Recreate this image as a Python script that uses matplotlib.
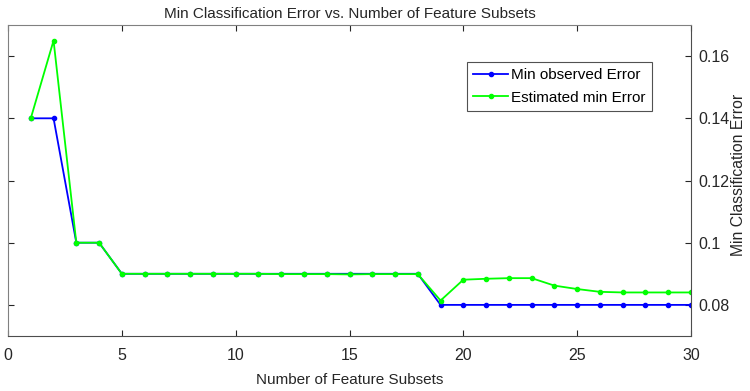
import numpy as np
import matplotlib
matplotlib.use("Agg")
import matplotlib.pyplot as plt

plt.rcParams["font.family"] = ["Liberation Sans", "DejaVu Sans"]

n_subsets = np.arange(1, 31)
min_observed = [0.14, 0.14, 0.10, 0.10, 0.09, 0.09, 0.09, 0.09, 0.09, 0.09,
                0.09, 0.09, 0.09, 0.09, 0.09, 0.09, 0.09, 0.09, 0.08, 0.08,
                0.08, 0.08, 0.08, 0.08, 0.08, 0.08, 0.08, 0.08, 0.08, 0.08]
est_min = [0.14, 0.165, 0.10, 0.10, 0.09, 0.09, 0.09, 0.09, 0.09, 0.09,
           0.09, 0.0899, 0.0899, 0.0899, 0.0898, 0.0899, 0.0899, 0.0899, 0.0814, 0.0881,
           0.0884, 0.0886, 0.0886, 0.0862, 0.0851, 0.0842, 0.0840, 0.0840, 0.0840, 0.0840]

fig = plt.figure(figsize=(7.5, 3.91), dpi=100)
ax = fig.add_axes([0.0107, 0.1407, 0.9106, 0.7953])

ax.plot(n_subsets, min_observed, "-", color="#0000ff", lw=1.3, marker="o", ms=3,
        label="Min observed Error")
ax.plot(n_subsets, est_min, "-", color="#00ff00", lw=1.3, marker="o", ms=3,
        label="Estimated min Error")

ax.set_xlim(0, 30)
ax.set_ylim(0.07, 0.17)
ax.set_xticks([0, 5, 10, 15, 20, 25, 30])
ax.set_yticks([0.08, 0.1, 0.12, 0.14, 0.16])
ax.set_yticklabels(["0.08", "0.1", "0.12", "0.14", "0.16"])
ax.yaxis.tick_right()
ax.yaxis.set_label_position("right")

gray = "#4d4d4d"
for side in ["top", "left"]:
    ax.spines[side].set_color("#808080")
for side in ["bottom", "right"]:
    ax.spines[side].set_color(gray)
ax.tick_params(axis="both", colors="#262626", labelsize=11.5, length=4, direction="in",
               top=True, left=True, width=0.8)
ax.tick_params(axis="x", pad=9)
ax.tick_params(axis="y", pad=5)

ax.set_title("Min Classification Error vs. Number of Feature Subsets", fontsize=11,
             color="#262626", pad=5)
ax.set_xlabel("Number of Feature Subsets", fontsize=11, color="#262626", labelpad=7)
ax.set_ylabel("Min Classification Error", fontsize=11.3, color="#262626",
              rotation=90, va="center", ha="center")
ax.yaxis.set_label_coords(1.07, 0.518)

leg = ax.legend(loc="upper right", bbox_to_anchor=(0.943, 0.881), fontsize=11,
                frameon=True, fancybox=False, borderpad=0.4, handlelength=2.3,
                handletextpad=0.2, labelspacing=0.55, borderaxespad=0)
leg.get_frame().set_edgecolor("#262626")
leg.get_frame().set_linewidth(0.8)

fig.savefig("out.png", dpi=100)
